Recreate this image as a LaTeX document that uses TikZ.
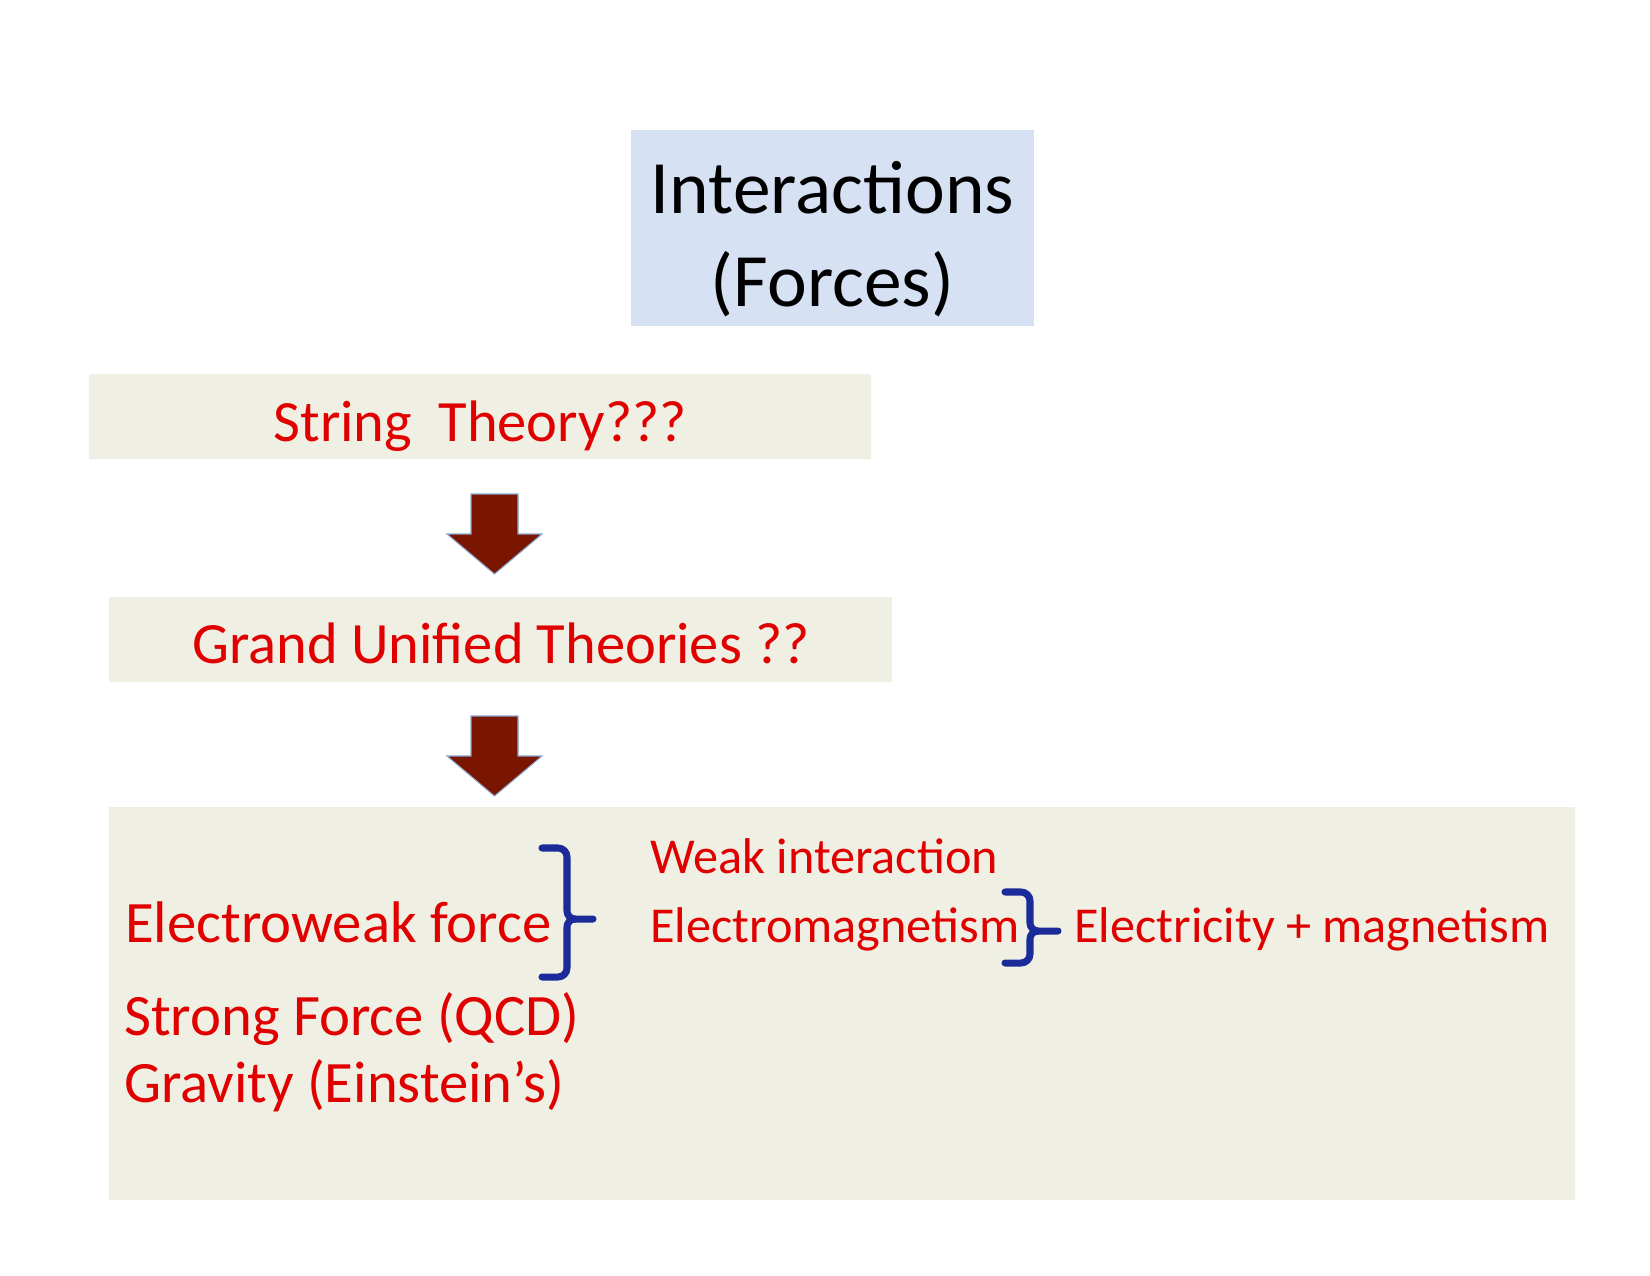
\documentclass[tikz,border=0pt]{standalone}
\usepackage{fontspec}
\setmainfont{Carlito}
\usetikzlibrary{positioning}
\definecolor{titleblue}{HTML}{D6E1F3}
\definecolor{panelbeige}{HTML}{EFF0E3}
\definecolor{forcered}{HTML}{E00000}
\definecolor{bracenavy}{HTML}{1B2C9A}
\definecolor{arrowbrown}{HTML}{7A1500}
\definecolor{arrowedge}{HTML}{8BA6D0}
\tikzset{
  panel/.style={
    fill=#1,
    inner sep=0pt
  },
  panel/.default=panelbeige,
  titletext/.style={
    align=center,
    inner sep=0pt,
    font=\fontsize{42.9pt}{53.3pt}\selectfont
  },
  theorytext/.style={
    text=forcered,
    inner sep=0pt,
    anchor=base,
    font=\fontsize{33.3pt}{40pt}\selectfont
  },
  forcetext/.style={
    text=forcered,
    inner sep=0pt,
    anchor=base west,
    font=\fontsize{33.4pt}{40pt}\selectfont
  },
  subtext/.style={
    text=forcered,
    inner sep=0pt,
    anchor=base west,
    font=\fontsize{28.6pt}{34pt}\selectfont
  },
  downarrow/.style={fill=arrowbrown,draw=arrowedge,line width=0.6pt,line join=miter},
  brace/.style={draw=bracenavy,line width=4pt,line cap=round,line join=round}
}
\newcommand{\blockarrow}[1]{%
  \path[downarrow] (#1) ++(-23.5,0) -- ++(47,0) -- ++(0,40) -- ++(24,0)
    -- ++(-47.5,40) -- ++(-47.5,-40) -- ++(24,0) -- cycle;}

\begin{document}
\begin{tikzpicture}[x=0.02cm,y=-0.02cm]
  \useasboundingbox (0,0) rectangle (1650,1275);

  % boxes
  \node[panel=titleblue, minimum width=8.06cm, minimum height=3.92cm] (interactions) at (832.5,228) {};
  \node[titletext] (interactionslabel) at (832.5,239) {Interactions\\(Forces)};

  \node[panel, minimum width=15.64cm, minimum height=1.70cm] (string) at (480,416.5) {};
  \node[theorytext] (stringlabel) at (480,441) {String\ \ Theory???};

  \node[panel, minimum width=15.66cm, minimum height=1.70cm] (gut) at (500.5,639.5) {};
  \node[theorytext] (gutlabel) at (501,663) {Grand Unified Theories ??};

  \node[panel, minimum width=29.32cm, minimum height=7.86cm] (forces) at (842,1003.5) {};

  % arrows between the levels
  \coordinate (arrowA) at (494.5,494);
  \coordinate (arrowB) at (494.5,716);
  \blockarrow{arrowA}
  \blockarrow{arrowB}

  % the forces we know
  \node[forcetext] (electroweak) at (125,942) {Electroweak force};
  \node[forcetext] (strong) at (124,1035) {Strong Force (QCD)};
  \node[forcetext] (gravity) at (124,1102) {Gravity (Einstein’s)};

  \node[subtext] (weak) at (650,873) {Weak interaction};
  \node[subtext] (em) at (650,942) {Electromagnetism};
  \node[subtext] (elmag) at (1074,942) {Electricity + magnetism};

  % braces
  \draw[brace] (542,848) -- (558,848) to[out=0,in=90] (567,857) -- (567,911)
    to[out=-90,in=180] (575,919) -- (593,919);
  \draw[brace] (542,977) -- (558,977) to[out=0,in=-90] (567,968) -- (567,927)
    to[out=90,in=180] (575,919);
  \draw[brace] (1005,892) -- (1021,892) to[out=0,in=90] (1030,901) -- (1030,923)
    to[out=-90,in=180] (1038,931) -- (1058,931);
  \draw[brace] (1005,963) -- (1021,963) to[out=0,in=-90] (1030,954) -- (1030,939)
    to[out=90,in=180] (1038,931);
\end{tikzpicture}
\end{document}
